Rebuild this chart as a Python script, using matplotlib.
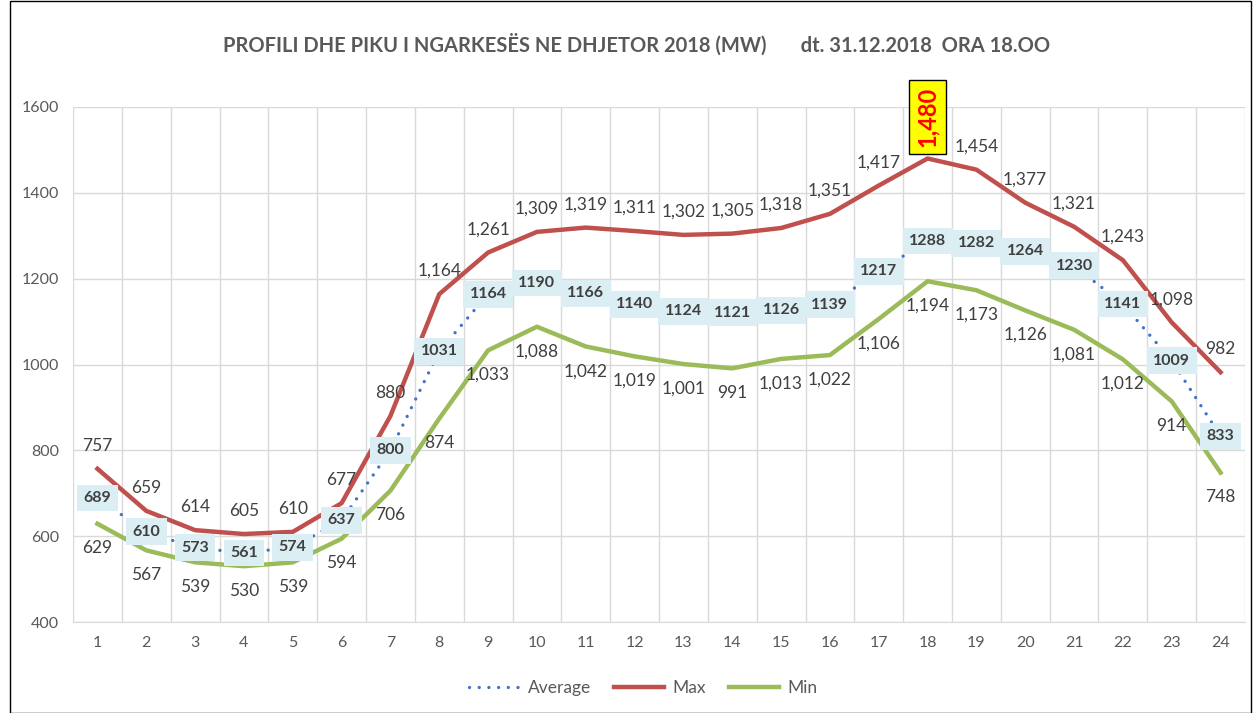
import matplotlib.pyplot as plt
from matplotlib.patches import Rectangle

hours = list(range(1, 25))
average = [689, 610, 573, 561, 574, 637, 800, 1031, 1164, 1190, 1166, 1140,
           1124, 1121, 1126, 1139, 1217, 1288, 1282, 1264, 1230, 1141, 1009, 833]
max_load = [757, 659, 614, 605, 610, 677, 880, 1164, 1261, 1309, 1319, 1311,
            1302, 1305, 1318, 1351, 1417, 1480, 1454, 1377, 1321, 1243, 1098, 982]
min_load = [629, 567, 539, 530, 539, 594, 706, 874, 1033, 1088, 1042, 1019,
            1001, 991, 1013, 1022, 1106, 1194, 1173, 1126, 1081, 1012, 914, 748]
peak_hour = 18

plt.rcParams['font.family'] = ['Lato', 'DejaVu Sans']
txt = '#404040'

fig = plt.figure(figsize=(12.54, 7.13), dpi=100)
fig.patch.set_facecolor('white')
ax = fig.add_axes([73 / 1254, 1 - 622 / 713, (1245 - 73) / 1254, (622 - 107) / 713])

ax.plot(hours, average, linestyle=(0, (0.01, 2.9)), dash_capstyle='round',
        color='#4472C4', lw=2.4, label='Average', zorder=3)
ax.plot(hours, max_load, color='#C0504D', lw=3.2, label='Max', zorder=2)
ax.plot(hours, min_load, color='#9BBB59', lw=3.2, label='Min', zorder=2)

ax.set_xlim(0.5, 24.5)
ax.set_ylim(400, 1600)
ax.set_yticks(range(400, 1601, 200))
ax.set_xticks(hours)
ax.set_xticks([h + 0.5 for h in range(0, 25)], minor=True)
ax.grid(True, which='minor', axis='x', color='#D9D9D9', lw=1)
ax.grid(True, which='major', axis='y', color='#D9D9D9', lw=1)
ax.tick_params(which='both', length=0, labelsize=11.5, colors='#595959', pad=10)
for s in ax.spines.values():
    s.set_visible(False)
ax.spines['bottom'].set_visible(True)
ax.spines['bottom'].set_color('#D9D9D9')
ax.set_axisbelow(True)

for h, v in zip(hours, max_load):
    if h == peak_hour:
        ax.annotate(f'{v:,}', (h, v), xytext=(0, 8), textcoords='offset points',
                    ha='center', va='bottom', rotation=90, color='red',
                    fontsize=17, fontweight='bold', annotation_clip=False,
                    bbox=dict(boxstyle='square,pad=0.3', fc='yellow', ec='black', lw=1))
    else:
        ax.annotate(f'{v:,}', (h, v), xytext=(0, 11), textcoords='offset points',
                    ha='center', va='bottom', color=txt, fontsize=12.5)
for h, v in zip(hours, min_load):
    ax.annotate(f'{v:,}', (h, v), xytext=(0, -12), textcoords='offset points',
                ha='center', va='top', color=txt, fontsize=12.5)
for h, v in zip(hours, average):
    ax.annotate(f'{v}', (h, v), ha='center', va='center', color=txt,
                fontsize=11.5, fontweight='bold', zorder=5,
                bbox=dict(boxstyle='square,pad=0.4', fc='#DAEEF3', ec='none'))

fig.text(0.508, 1 - 45 / 713, 'PROFILI DHE PIKU I NGARKESËS NE DHJETOR 2018 (MW)       dt. 31.12.2018  ORA 18.OO',
         ha='center', va='center', fontsize=14.5, fontweight='bold', color='#595959')

leg = fig.legend(loc='center', bbox_to_anchor=(0.513, 1 - 688 / 713), ncol=3,
                 frameon=False, fontsize=12.5, handlelength=2.9, handletextpad=0.5,
                 columnspacing=1.3)
for t in leg.get_texts():
    t.set_color('#595959')

fig.patches.append(Rectangle((10 / 1254, 0), 1241 / 1254, 0.999, transform=fig.transFigure,
                             fill=False, ec='black', lw=1))

fig.savefig('out.png', dpi=100)
